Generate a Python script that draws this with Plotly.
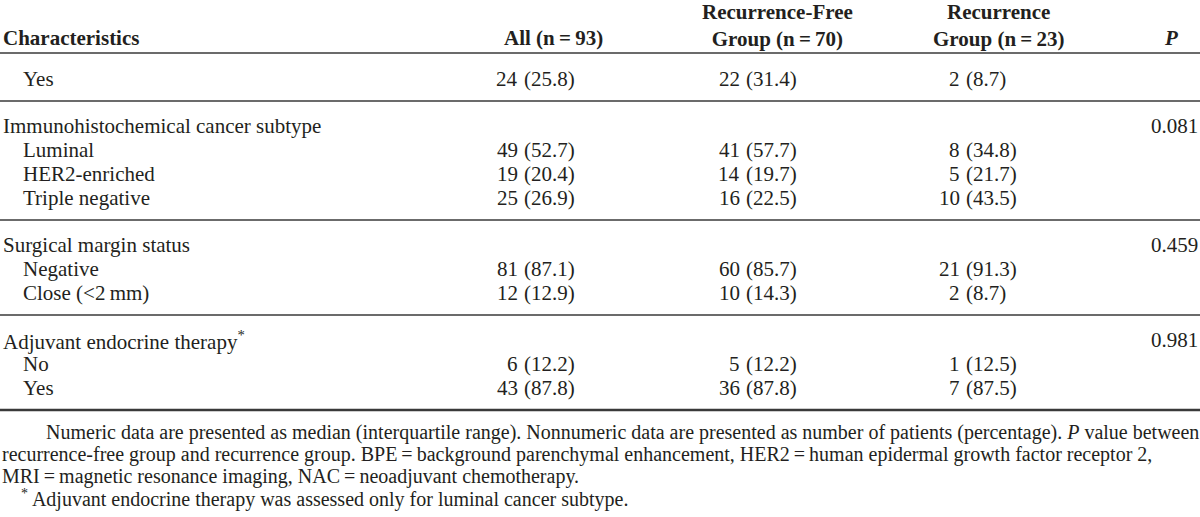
import plotly.graph_objects as go

# ---------------- data ----------------
header_cols = ["Characteristics", "All (n\u2009=\u200993)", "Recurrence-Free<br>Group (n\u2009=\u200970)",
               "Recurrence<br>Group (n\u2009=\u200923)", "<i>P</i>"]

sections = [
    {"title": None, "p": "", "rows": [
        ("Yes", (24, 25.8), (22, 31.4), (2, 8.7)),
    ]},
    {"title": "Immunohistochemical cancer subtype", "p": "0.081", "rows": [
        ("Luminal", (49, 52.7), (41, 57.7), (8, 34.8)),
        ("HER2-enriched", (19, 20.4), (14, 19.7), (5, 21.7)),
        ("Triple negative", (25, 26.9), (16, 22.5), (10, 43.5)),
    ]},
    {"title": "Surgical margin status", "p": "0.459", "rows": [
        ("Negative", (81, 87.1), (60, 85.7), (21, 91.3)),
        ("Close (&lt;2\u2009mm)", (12, 12.9), (10, 14.3), (2, 8.7)),
    ]},
    {"title": "Adjuvant endocrine therapy<sup>*</sup>", "p": "0.981", "rows": [
        ("No", (6, 12.2), (5, 12.2), (1, 12.5)),
        ("Yes", (43, 87.8), (36, 87.8), (7, 87.5)),
    ]},
]

footnotes = [
    "Numeric data are presented as median (interquartile range). Nonnumeric data are presented as number of patients (percentage). <i>P</i> value between",
    "recurrence-free group and recurrence group. BPE\u2009=\u2009background parenchymal enhancement, HER2\u2009=\u2009human epidermal growth factor receptor 2,",
    "MRI\u2009=\u2009magnetic resonance imaging, NAC\u2009=\u2009neoadjuvant chemotherapy.",
    "<sup>*</sup> Adjuvant endocrine therapy was assessed only for luminal cancer subtype.",
]

# ---------------- layout constants ----------------
W, H = 1200, 517
FONT = "Liberation Serif"
FS = 21
FN = 20
TXT = "#231f20"
RULE = "#3a3a3a"

count_right = [520, 742, 962]   # right edge of count per data column
pct_left = [522, 744, 964]      # left edge of (pct) per data column
p_right = 1200

annotations = []
shapes = []


def text(x, y, s, anchor="left", size=FS, bold=False):
    if bold:
        s = "<b>" + s + "</b>"
    annotations.append(dict(x=x, y=y, xref="x", yref="y", text=s, showarrow=False,
                            xanchor=anchor, yanchor="middle", align=anchor if anchor != "center" else "center",
                            font=dict(family=FONT, size=size, color=TXT)))


def rule(y, w=1.5):
    shapes.append(dict(type="line", xref="x", yref="y", x0=0, x1=W, y0=y, y1=y,
                       line=dict(color=RULE, width=w)))


# header
text(1, 38, header_cols[0], bold=True)
text(605, 38, header_cols[1], anchor="right", bold=True)
text(777, 25, header_cols[2], anchor="center", bold=True)
text(998, 25, header_cols[3], anchor="center", bold=True)
text(1171, 38, header_cols[4], anchor="center", bold=True)
rule(53)

ROW = 24
y = 79
for si, sec in enumerate(sections):
    if si > 0:
        y += 2
    if sec["title"]:
        text(1, y, sec["title"])
        text(p_right, y, sec["p"], anchor="right")
        y += ROW
    for label, *vals in sec["rows"]:
        text(21, y, label)
        for ci, (cnt, pct) in enumerate(vals):
            text(count_right[ci], y, str(cnt), anchor="right")
            text(pct_left[ci], y, "(%.1f)" % pct, anchor="left")
        y += ROW
    y -= 2
    rule(y, 1.5 if si < len(sections) - 1 else 2.5)
    y += ROW - 1

# footnotes
fy = 432
text(44, fy, footnotes[0], size=FN)
text(0, fy + 22, footnotes[1], size=FN)
text(0, fy + 44, footnotes[2], size=FN)
text(19, fy + 66, footnotes[3], size=FN)

fig = go.Figure()
fig.add_trace(go.Scatter(x=[0, W], y=[0, H], mode="markers", marker=dict(opacity=0), hoverinfo="skip",
                         showlegend=False))
fig.update_layout(
    width=W, height=H, margin=dict(l=0, r=0, t=0, b=0),
    paper_bgcolor="white", plot_bgcolor="white",
    xaxis=dict(range=[0, W], visible=False, fixedrange=True),
    yaxis=dict(range=[H, 0], visible=False, fixedrange=True),
    annotations=annotations, shapes=shapes, showlegend=False,
)
fig.write_html("out.html", config={"displayModeBar": False},
               post_script="document.body.style.margin='0';document.body.style.overflow='hidden';")
